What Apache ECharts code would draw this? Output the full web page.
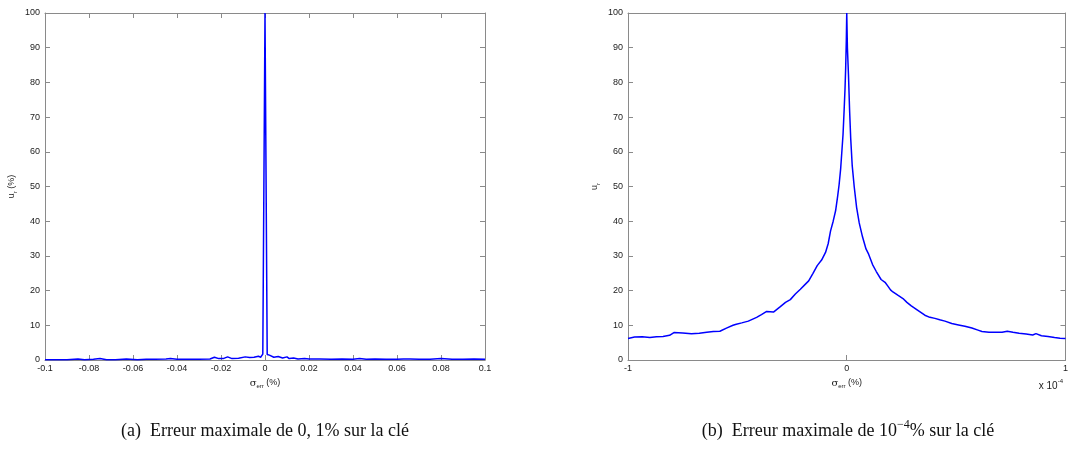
<!DOCTYPE html>
<html>
<head>
<meta charset="utf-8">
<script src="https://cdn.jsdelivr.net/npm/echarts@6/dist/echarts.min.js"></script>
<style>
html,body{margin:0;padding:0;background:#fff;}
#chart{width:1071px;height:450px;}
</style>
</head>
<body>
<div id="chart"></div>
<script>
// ---- data (left: max error 0.1 %) ----
const leftX = [-0.1, -0.095, -0.09, -0.085, -0.082, -0.078, -0.075, -0.072, -0.068, -0.063, -0.058, -0.054, -0.05, -0.045, -0.043, -0.04, -0.035, -0.03, -0.025, -0.023, -0.021, -0.019, -0.017, -0.015, -0.012, -0.009, -0.007, -0.005, -0.003, -0.002, -0.001, 0, 0.001, 0.002, 0.004, 0.006, 0.008, 0.010, 0.011, 0.013, 0.015, 0.018, 0.02, 0.025, 0.03, 0.035, 0.04, 0.043, 0.046, 0.05, 0.055, 0.06, 0.063, 0.066, 0.07, 0.075, 0.08, 0.085, 0.09, 0.095, 0.1];
const leftY = [0.1, 0.1, 0.1, 0.3, 0.1, 0.2, 0.4, 0.1, 0.1, 0.3, 0.1, 0.2, 0.2, 0.3, 0.4, 0.2, 0.2, 0.2, 0.3, 0.8, 0.4, 0.4, 0.9, 0.4, 0.5, 0.9, 0.7, 0.8, 1.1, 0.8, 1.7, 100, 1.6, 1.4, 0.8, 1.0, 0.6, 0.9, 0.4, 0.6, 0.3, 0.4, 0.3, 0.3, 0.2, 0.3, 0.2, 0.4, 0.2, 0.3, 0.2, 0.2, 0.3, 0.3, 0.2, 0.2, 0.4, 0.2, 0.2, 0.3, 0.2];
const leftTicks = [-0.1, -0.08, -0.06, -0.04, -0.02, 0, 0.02, 0.04, 0.06, 0.08, 0.1];

// ---- data (right: max error 1e-4 %, x in units of 1e-4) ----
const rightX = [-1, -0.97, -0.935, -0.9, -0.87, -0.84, -0.81, -0.79, -0.75, -0.71, -0.674, -0.64, -0.61, -0.58, -0.55, -0.52, -0.505, -0.48, -0.45, -0.412, -0.39, -0.366, -0.335, -0.305, -0.28, -0.258, -0.235, -0.212, -0.19, -0.174, -0.155, -0.135, -0.115, -0.097, -0.085, -0.074, -0.062, -0.051, -0.042, -0.035, -0.028, -0.023, -0.017, -0.012, -0.008, -0.005, -0.002, 0, 0.003, 0.008, 0.013, 0.018, 0.025, 0.034, 0.045, 0.057, 0.072, 0.088, 0.1, 0.118, 0.135, 0.157, 0.175, 0.188, 0.2, 0.211, 0.235, 0.257, 0.275, 0.295, 0.325, 0.357, 0.38, 0.403, 0.425, 0.449, 0.48, 0.511, 0.54, 0.572, 0.6, 0.618, 0.65, 0.68, 0.71, 0.734, 0.76, 0.788, 0.82, 0.85, 0.865, 0.89, 0.92, 0.95, 0.975, 1];
const rightY = [6.2, 6.6, 6.7, 6.5, 6.7, 6.8, 7.1, 7.9, 7.8, 7.6, 7.7, 8.0, 8.2, 8.3, 9.2, 10.0, 10.3, 10.7, 11.2, 12.3, 13.1, 14.0, 13.8, 15.3, 16.6, 17.4, 19.0, 20.4, 21.8, 22.8, 24.9, 27.2, 28.8, 31.0, 33.5, 37.2, 40.0, 43.0, 47.0, 50.5, 55.0, 59.5, 65.0, 72.0, 78.0, 84.0, 92.0, 100, 90.0, 82.0, 72.0, 64.0, 56.0, 50.0, 44.0, 39.5, 35.5, 32.0, 30.5, 27.5, 25.5, 23.2, 22.4, 21.3, 20.2, 19.6, 18.6, 17.7, 16.6, 15.6, 14.3, 12.9, 12.3, 12.0, 11.6, 11.2, 10.5, 10.1, 9.7, 9.2, 8.6, 8.2, 8.0, 8.0, 8.0, 8.3, 8.0, 7.7, 7.5, 7.2, 7.6, 7.0, 6.8, 6.5, 6.3, 6.2];
const rightTicks = [-1, 0, 1];
const yTicks = [0, 10, 20, 30, 40, 50, 60, 70, 80, 90, 100];

const captionA = '(a)  Erreur maximale de 0, 1% sur la clé';
const captionB = ['(b)  Erreur maximale de 10', '−4', '% sur la clé'];

const AX = '#8a8a8a';
const LBL = '#1a1a1a';
const FONT = '"Liberation Sans", Arial, sans-serif';
const SERIF = '"Liberation Serif", serif';

function fmt(v){ const r = Math.round(v*1000)/1000; return String(r); }

function xAxisPair(gi, min, max, interval, name){
  const base = {
    gridIndex: gi, type: 'value', min: min, max: max, interval: interval,
    splitLine: {show:false},
    axisLine: {show:true, onZero:false, lineStyle:{color:AX, width:1}},
    axisTick: {show:true, inside:true, length:5, lineStyle:{color:AX}}
  };
  return [
    Object.assign({}, base, {
      position:'bottom',
      axisLabel:{show:true, color:LBL, fontSize:9, fontFamily:FONT, margin:4, formatter: fmt},
      name: name, nameLocation:'middle', nameGap: 17,
      nameTextStyle: {
        color: LBL, fontFamily: FONT,
        rich: {a:{fontSize:9, color:LBL, fontFamily:FONT}, g:{fontSize:10, color:LBL, fontFamily:'"DejaVu Serif", serif'}, s:{fontSize:6, color:LBL, fontFamily:FONT, padding:[6,0,0,0]}}
      }
    }),
    Object.assign({}, base, {position:'top', axisLabel:{show:false}})
  ];
}
function yAxisPair(gi, name, gap){
  const base = {
    gridIndex: gi, type:'value', min:0, max:100, interval:10,
    splitLine:{show:false},
    axisLine:{show:true, onZero:false, lineStyle:{color:AX, width:1}},
    axisTick:{show:true, inside:true, length:5, lineStyle:{color:AX}}
  };
  return [
    Object.assign({}, base, {
      position:'left',
      axisLabel:{show:true, color:LBL, fontSize:9, fontFamily:FONT, margin:5},
      name: name, nameLocation:'middle', nameGap: gap, nameRotate: 90,
      nameTextStyle:{
        color:LBL, fontFamily:FONT,
        rich:{a:{fontSize:9, color:LBL, fontFamily:FONT}, s:{fontSize:6, color:LBL, fontFamily:FONT, padding:[6,0,0,0]}}
      }
    }),
    Object.assign({}, base, {position:'right', axisLabel:{show:false}})
  ];
}

const xl = xAxisPair(0, -0.1, 0.1, 0.02, '{g|σ}{s|err}{a| (%)}');
const xr = xAxisPair(1, -1, 1, 1, '{g|σ}{s|err}{a| (%)}');
const yl = yAxisPair(0, '{a|u}{s|r}{a| (%)}', 27);
const yr = yAxisPair(1, '{a|u}{s|r}', 27);

const chart = echarts.init(document.getElementById('chart'), null, {renderer:'canvas'});
chart.setOption({
  animation:false,
  backgroundColor:'#fff',
  grid:[
    {left:45, top:13, width:440, height:347},
    {left:628, top:13, width:440, height:347}
  ],
  xAxis:[xl[0], xl[1], xr[0], xr[1]],
  yAxis:[yl[0], yl[1], yr[0], yr[1]],
  series:[
    {type:'line', xAxisIndex:0, yAxisIndex:0, showSymbol:false, symbol:'none',
     lineStyle:{color:'#0000ff', width:1.5}, data: leftX.map((x,i)=>[x, leftY[i]])},
    {type:'line', xAxisIndex:2, yAxisIndex:2, showSymbol:false, symbol:'none',
     lineStyle:{color:'#0000ff', width:1.5}, data: rightX.map((x,i)=>[x, rightY[i]])}
  ],
  graphic:[
    {type:'text', x: 1063, y: 386,
     style:{text:'{a|x 10}{s|-4}', align:'right', verticalAlign:'middle',
       rich:{a:{fontSize:10, fontFamily:FONT, fill:LBL, lineHeight:16}, s:{fontSize:6, fontFamily:FONT, fill:LBL, verticalAlign:'top', lineHeight:8}}}},
    {type:'text', x: 265, y: 431,
     style:{text: captionA, fontSize:18, fontFamily:SERIF, fill:'#111', align:'center', verticalAlign:'middle'}},
    {type:'text', x: 848, y: 431,
     style:{text: '{n|' + captionB[0] + '}{p|' + captionB[1] + '}{n|' + captionB[2] + '}',
       align:'center', verticalAlign:'middle',
       rich:{n:{fontSize:18, fontFamily:SERIF, fill:'#111', lineHeight:24},
             p:{fontSize:12, fontFamily:SERIF, fill:'#111', verticalAlign:'top', lineHeight:14}}}}
  ]
});
</script>
</body>
</html>
